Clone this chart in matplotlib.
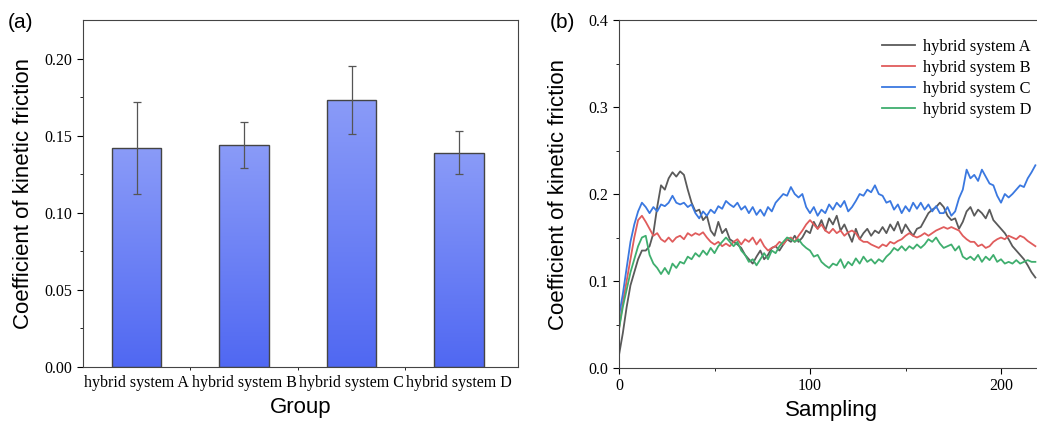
import numpy as np
import matplotlib
matplotlib.use("Agg")
import matplotlib.pyplot as plt
from matplotlib.colors import LinearSegmentedColormap

# ---- data ----
groups = ["hybrid system A", "hybrid system B", "hybrid system C", "hybrid system D"]
means = [0.142, 0.144, 0.173, 0.139]
errs = [0.030, 0.015, 0.022, 0.014]

sys_a = [0.015, 0.04, 0.07, 0.095, 0.11, 0.125, 0.135, 0.135, 0.14, 0.155,
         0.185, 0.21, 0.205, 0.218, 0.225, 0.22, 0.226, 0.222, 0.205, 0.19,
         0.18, 0.182, 0.17, 0.175, 0.158, 0.152, 0.168, 0.155, 0.16, 0.148,
         0.145, 0.142, 0.138, 0.13, 0.125, 0.12, 0.128, 0.135, 0.125, 0.13,
         0.138, 0.14, 0.135, 0.142, 0.148, 0.145, 0.152, 0.145, 0.15, 0.158,
         0.155, 0.168, 0.16, 0.17, 0.158, 0.172, 0.165, 0.175, 0.158, 0.165,
         0.155, 0.145, 0.16, 0.148, 0.155, 0.16, 0.152, 0.158, 0.155, 0.162,
         0.155, 0.165, 0.158, 0.168, 0.155, 0.165, 0.158, 0.152, 0.16, 0.162,
         0.17, 0.178, 0.182, 0.185, 0.19, 0.185, 0.175, 0.17, 0.172, 0.16,
         0.168, 0.18, 0.185, 0.175, 0.182, 0.178, 0.172, 0.182, 0.17, 0.165,
         0.16, 0.155, 0.148, 0.14, 0.135, 0.13, 0.125, 0.118, 0.11, 0.104]
sys_b = [0.045, 0.075, 0.1, 0.125, 0.15, 0.17, 0.175, 0.168, 0.16, 0.152,
         0.155, 0.148, 0.145, 0.15, 0.145, 0.15, 0.152, 0.148, 0.155, 0.152,
         0.155, 0.153, 0.156, 0.15, 0.145, 0.142, 0.145, 0.14, 0.143, 0.14,
         0.145, 0.148, 0.142, 0.148, 0.145, 0.15, 0.142, 0.148, 0.14, 0.135,
         0.138, 0.14, 0.145, 0.142, 0.148, 0.15, 0.145, 0.152, 0.158, 0.165,
         0.17, 0.165, 0.16, 0.165, 0.158, 0.155, 0.16, 0.155, 0.158, 0.152,
         0.156, 0.158, 0.155, 0.148, 0.145, 0.145, 0.142, 0.14, 0.138, 0.142,
         0.14, 0.145, 0.143, 0.146, 0.148, 0.152, 0.155, 0.152, 0.15, 0.152,
         0.155, 0.152, 0.155, 0.158, 0.16, 0.162, 0.16, 0.162, 0.16, 0.158,
         0.152, 0.148, 0.145, 0.145, 0.14, 0.142, 0.138, 0.14, 0.145, 0.148,
         0.15, 0.148, 0.152, 0.15, 0.148, 0.152, 0.15, 0.146, 0.143, 0.14]
sys_c = [0.06, 0.085, 0.115, 0.145, 0.165, 0.18, 0.19, 0.185, 0.178, 0.185,
         0.18, 0.188, 0.186, 0.19, 0.198, 0.19, 0.188, 0.19, 0.185, 0.188,
         0.178, 0.172, 0.18, 0.175, 0.182, 0.178, 0.186, 0.183, 0.192, 0.188,
         0.185, 0.19, 0.182, 0.186, 0.178, 0.185, 0.176, 0.182, 0.175, 0.185,
         0.18, 0.19, 0.195, 0.2, 0.198, 0.208, 0.2, 0.196, 0.2, 0.185,
         0.178, 0.185, 0.175, 0.182, 0.178, 0.188, 0.182, 0.19, 0.185, 0.192,
         0.18, 0.185, 0.192, 0.2, 0.198, 0.205, 0.202, 0.21, 0.2, 0.198,
         0.19, 0.192, 0.182, 0.188, 0.178, 0.186, 0.18, 0.19, 0.183, 0.19,
         0.182, 0.188, 0.18, 0.186, 0.178, 0.178, 0.185, 0.175, 0.18, 0.195,
         0.205, 0.228, 0.218, 0.222, 0.215, 0.228, 0.22, 0.212, 0.21, 0.198,
         0.19, 0.2, 0.196, 0.2, 0.205, 0.21, 0.208, 0.218, 0.225, 0.233]
sys_d = [0.045, 0.07, 0.09, 0.11, 0.125, 0.14, 0.15, 0.152, 0.13, 0.12,
         0.115, 0.108, 0.115, 0.108, 0.12, 0.115, 0.122, 0.12, 0.128, 0.125,
         0.132, 0.128, 0.135, 0.13, 0.138, 0.132, 0.14, 0.145, 0.15, 0.145,
         0.14, 0.145, 0.135, 0.13, 0.122, 0.125, 0.118, 0.125, 0.132, 0.125,
         0.135, 0.132, 0.14, 0.145, 0.15, 0.148, 0.145, 0.148, 0.142, 0.138,
         0.135, 0.128, 0.13, 0.122, 0.118, 0.115, 0.12, 0.118, 0.125, 0.115,
         0.122, 0.118, 0.126, 0.12, 0.128, 0.122, 0.125, 0.12, 0.125, 0.122,
         0.128, 0.132, 0.138, 0.135, 0.14, 0.135, 0.14, 0.137, 0.142, 0.138,
         0.142, 0.148, 0.145, 0.15, 0.143, 0.138, 0.14, 0.142, 0.135, 0.14,
         0.128, 0.125, 0.128, 0.124, 0.13, 0.122, 0.128, 0.124, 0.13, 0.122,
         0.125, 0.12, 0.122, 0.12, 0.124, 0.12, 0.122, 0.124, 0.122, 0.122]
series = [sys_a, sys_b, sys_c, sys_d]
line_colors = ["#5a5a5a", "#e05c5c", "#3a78e0", "#3fae6e"]

serif = "Liberation Serif"
sans = "Liberation Sans"

fig = plt.figure(figsize=(10.37, 4.21), dpi=100)

# ---- (a) bar chart ----
ax1 = fig.add_axes([83 / 1037, 54 / 421, 435 / 1037, 347 / 421])
pos = np.arange(1, 5)
bars = ax1.bar(pos, means, width=0.46, facecolor="none", edgecolor="#444444",
               linewidth=1.0, zorder=3)
cmap = LinearSegmentedColormap.from_list("barg", ["#5068f2", "#8a9bf8"])
grad = np.linspace(0, 1, 256).reshape(-1, 1)
for b in bars:
    x0, w, h = b.get_x(), b.get_width(), b.get_height()
    im = ax1.imshow(grad, cmap=cmap, extent=[x0, x0 + w, 0, h], origin="lower",
                    aspect="auto", zorder=2)
    im.set_clip_path(b)
ax1.errorbar(pos, means, yerr=errs, fmt="none", ecolor="#555555", elinewidth=0.9,
             capsize=3, capthick=0.9, zorder=4)
ax1.set_xlim(0.5, 4.55)
ax1.set_ylim(0, 0.225)
ax1.set_xticks(pos)
ax1.set_xticklabels(groups, fontfamily=serif, fontsize=11.5)
ax1.set_xticks([1.5, 2.5, 3.5], minor=True)
ax1.set_yticks([0, 0.05, 0.10, 0.15, 0.20])
ax1.set_yticklabels(["0.00", "0.05", "0.10", "0.15", "0.20"], fontfamily=serif,
                    fontsize=11.5)
ax1.set_yticks([0.025, 0.075, 0.125, 0.175], minor=True)
ax1.tick_params(axis="x", which="major", direction="in", length=4, pad=6)
ax1.tick_params(axis="x", which="minor", direction="out", length=2)
ax1.tick_params(axis="y", which="major", direction="out", length=4)
ax1.tick_params(axis="y", which="minor", direction="out", length=2)
for s in ax1.spines.values():
    s.set_color("#444444")
ax1.set_xlabel("Group", fontfamily=sans, fontsize=16, labelpad=4)
ax1.set_ylabel("Coefficient of kinetic friction", fontfamily=sans, fontsize=16,
               labelpad=8)
fig.text(8 / 1037, 1 - 28 / 421, "(a)", fontfamily=sans, fontsize=15)

# ---- (b) line chart ----
xmax = 222
ax2 = fig.add_axes([619 / 1037, 53 / 421, (xmax * 1.91) / 1037, 348 / 421])
for vals, c, lab in zip(series, line_colors, groups):
    xs = np.arange(len(vals)) * 2
    ax2.plot(xs, vals, color=c, linewidth=1.3, label=lab)
ax2.set_xlim(0, xmax)
ax2.set_ylim(0, 0.4)
ax2.set_xticks([0, 100, 200])
ax2.set_xticks([50, 150], minor=True)
ax2.set_yticks([0, 0.1, 0.2, 0.3, 0.4])
ax2.set_yticklabels(["0.0", "0.1", "0.2", "0.3", "0.4"], fontfamily=serif,
                    fontsize=11.5)
ax2.set_xticklabels(["0", "100", "200"], fontfamily=serif, fontsize=11.5)
ax2.set_yticks([0.05, 0.15, 0.25, 0.35], minor=True)
ax2.tick_params(which="major", direction="out", length=4)
ax2.tick_params(which="minor", direction="out", length=2)
for s in ax2.spines.values():
    s.set_color("#444444")
ax2.set_xlabel("Sampling", fontfamily=sans, fontsize=16, labelpad=4)
ax2.set_ylabel("Coefficient of kinetic friction", fontfamily=sans, fontsize=16,
               labelpad=14)
leg = ax2.legend(loc="upper left", bbox_to_anchor=(263 / (xmax * 1.91), 0.945),
                 frameon=False, prop={"family": serif, "size": 11.8},
                 handlelength=2.0, handletextpad=0.5, labelspacing=0.3,
                 borderaxespad=0, borderpad=0)
fig.text(550 / 1037, 1 - 28 / 421, "(b)", fontfamily=sans, fontsize=15)

fig.savefig("out.png", dpi=100)
